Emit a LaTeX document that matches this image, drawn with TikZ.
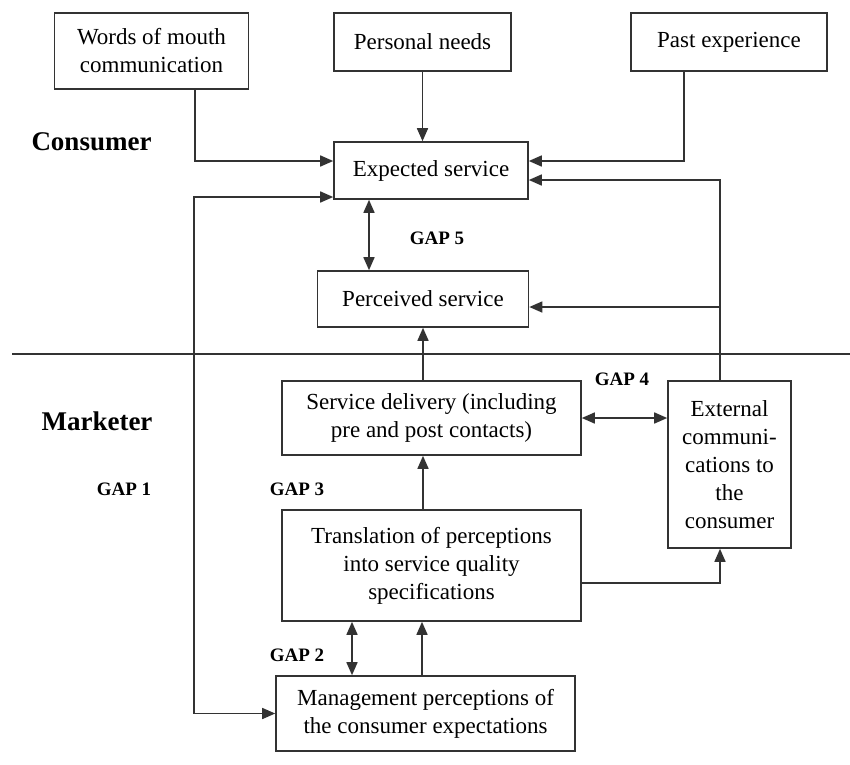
\documentclass[tikz,border=0pt]{standalone}
\usepackage{fontspec}
\setmainfont{Liberation Serif}
\usepackage{tikz}
\usetikzlibrary{arrows.meta,positioning}

\begin{document}
\begin{tikzpicture}[x=1pt,y=-1pt,>={Triangle[length=13pt,width=11pt]},line width=1.6pt,
box/.style={draw=black!80,inner sep=0pt,align=center,font=\fontsize{23}{28}\selectfont},
side/.style={font=\fontsize{27}{32}\selectfont\bfseries},
gap/.style={font=\fontsize{19}{22}\selectfont\bfseries},
link/.style={draw=black!80}]
\useasboundingbox (0,0) rectangle (850,764);
% consumer side
\node[box,minimum width=194pt,minimum height=76pt] (wom) at (151.5,51) {Words of mouth\\communication};
\node[box,minimum width=177pt,minimum height=58pt] (needs) at (422.5,42) {Personal needs};
\node[box,minimum width=196pt,minimum height=58pt] (past) at (729,42) {Past experience};
\node[box,minimum width=194pt,minimum height=57pt] (expected) at (431,170.5) {Expected service};
\node[box,minimum width=211pt,minimum height=56pt] (perceived) at (423,299) {Perceived service};
% marketer side
\node[box,minimum width=299pt,minimum height=74pt] (delivery) at (431.5,418) {Service delivery (including\\pre and post contacts)};
\node[box,minimum width=123pt,minimum height=167pt] (external) at (729.5,464.5) {External\\communi-\\cations to\\the\\consumer};
\node[box,minimum width=299pt,minimum height=111pt] (transl) at (431.5,565.5) {Translation of perceptions\\into service quality\\specifications};
\node[box,minimum width=299pt,minimum height=75pt] (mgmt) at (425.5,713.5) {Management perceptions of\\the consumer expectations};
\node[side] (consumer) at (91.5,142) {Consumer};
\node[side] (marketer) at (97,421) {Marketer};
\node[gap] (g1) at (124,489) {GAP 1};
\node[gap] (g2) at (297,655) {GAP 2};
\node[gap] (g3) at (297,489) {GAP 3};
\node[gap] (g4) at (622,379) {GAP 4};
\node[gap] (g5) at (437,238) {GAP 5};
\draw[black!80] (12,354) -- (850,354);
% connectors
\coordinate (exttop) at ([xshift=-9.5pt]external.north);
\coordinate (pin) at ([yshift=-8pt]perceived.east);
\coordinate (g5top) at ([xshift=-62pt]expected.south);
\coordinate (g2top) at ([xshift=-79.5pt]transl.south);
\coordinate (mup) at ([xshift=-3.5pt]mgmt.north);
\coordinate (tup) at ([xshift=-8.5pt]transl.north);
\draw[link,->] ([xshift=43.5pt]wom.south) |- ([yshift=9.5pt]expected.west);
\draw[link,->] (needs.south) -- (needs.south |- expected.north);
\draw[link,->] ([xshift=-45pt]past.south) |- ([yshift=9.5pt]expected.east);
\draw[link,->] (exttop) |- ([yshift=-9.5pt]expected.east);
\draw[link,->] (exttop |- pin) -- (pin);
\draw[link,<->] (g5top) -- (g5top |- perceived.north);
\draw[link,<-] (perceived.south) -- (perceived.south |- delivery.north);
\draw[link,<->] (delivery.east) -- (delivery.east -| external.west);
\draw[link,<-] (tup |- delivery.south) -- (tup);
\draw[link,->] ([yshift=-17.5pt]transl.east) -| ([xshift=-9.5pt]external.south);
\draw[link,<->] (g2top) -- (g2top |- mgmt.north);
\draw[link,->] (mup) -- (mup |- transl.south);
\draw[link,<->] ([yshift=-26.5pt]expected.west) -- ++(-139pt,0) |- (mgmt.west);
\end{tikzpicture}
\end{document}
